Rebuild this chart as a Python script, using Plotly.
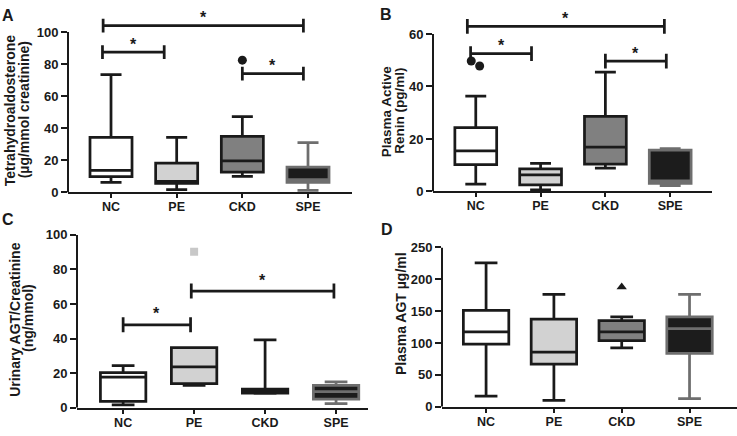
import plotly.graph_objects as go

# ── Data ─────────────────────────────────────────────────────────────────────
GROUPS = ["NC", "PE", "CKD", "SPE"]

# A: Tetrahydroaldosterone (µg/mmol creatinine)
a_lo  = [6.2, 1.8, 10.0, 1.2]
a_q1  = [9.8, 5.6, 12.6, 6.2]
a_med = [13.7, 6.8, 19.7, 8.0]
a_q3  = [34.3, 18.3, 35.0, 15.7]
a_hi  = [73.4, 34.3, 47.2, 31.0]
a_out_x = [2.0]
a_out_y = [82.5]
a_ticks = [0, 20, 40, 60, 80, 100]
# brackets: start group, end group, height
a_br_x0 = [-0.12, -0.13, 2.0]
a_br_x1 = [2.93, 0.81, 2.93]
a_br_h  = [104.0, 87.5, 74.1]

# B: Plasma Active Renin (pg/ml)
b_lo  = [2.8, 0.6, 8.9, 2.2]
b_q1  = [10.2, 2.5, 10.4, 3.1]
b_med = [15.5, 6.3, 16.9, 4.0]
b_q3  = [24.3, 8.6, 28.6, 15.7]
b_hi  = [36.3, 10.7, 45.5, 16.3]
b_out_x = [-0.07, 0.06]
b_out_y = [49.7, 47.8]
b_ticks = [0, 20, 40, 60]
b_br_x0 = [-0.13, -0.08, 2.0]
b_br_x1 = [2.91, 0.86, 2.94]
b_br_h  = [62.9, 52.5, 49.7]

# C: Urinary AGT/Creatinine (ng/mmol)
c_lo  = [1.7, 13.0, 8.3, 2.4]
c_q1  = [3.7, 14.0, 8.4, 5.0]
c_med = [17.7, 23.6, 9.5, 9.3]
c_q3  = [20.3, 34.8, 10.8, 12.9]
c_hi  = [24.4, 34.8, 39.3, 14.9]
c_out_x = [1.0]
c_out_y = [90.3]
c_ticks = [0, 20, 40, 60, 80, 100]
c_br_x0 = [0.0, 0.96]
c_br_x1 = [0.95, 2.97]
c_br_h  = [48.0, 67.5]

# D: Plasma AGT µg/ml
d_lo  = [16.6, 10.0, 92.2, 12.6]
d_q1  = [98.3, 67.0, 103.8, 83.7]
d_med = [117.4, 85.7, 117.4, 122.5]
d_q3  = [151.2, 137.6, 135.0, 141.0]
d_hi  = [225.8, 176.4, 141.0, 176.4]
d_out_x = [2.0]
d_out_y = [188.0]
d_ticks = [0, 50, 100, 150, 200, 250]

# ── Style ────────────────────────────────────────────────────────────────────
W, H = 737, 436
FONT = "Liberation Sans, Arial, sans-serif"
INK = "#1a1a1a"
LW = 2.75
FILL = {"NC": "#ffffff", "PE": "#d2d2d2", "CKD": "#808080", "SPE": "#1c1c1c"}
EDGE = {"NC": INK, "PE": INK, "CKD": INK, "SPE": "#6e6e6e"}


def xdom(left, right):
    return [left / W, right / W]


def ydom(top, bottom):
    return [1 - bottom / H, 1 - top / H]


fig = go.Figure()

# per panel: axis suffix, stats, x px span, y px (zero, top tick, domain top), x range
panels = [
    dict(ax="", lo=a_lo, q1=a_q1, med=a_med, q3=a_q3, hi=a_hi, ticks=a_ticks,
         xpx=(68, 352), ypx=(192, 26, 3), xr=[-0.655, 3.67], bw=0.64,
         out=(a_out_x, a_out_y, "circle", INK, 9),
         br=(a_br_x0, a_br_x1, a_br_h), tick=4.3, star=8),
    dict(ax="2", lo=b_lo, q1=b_q1, med=b_med, q3=b_q3, hi=b_hi, ticks=b_ticks,
         xpx=(433, 712), ypx=(191, 28, 3), xr=[-0.66, 3.645], bw=0.645,
         out=(b_out_x, b_out_y, "circle", INK, 9),
         br=(b_br_x0, b_br_x1, b_br_h), tick=2.8, star=8),
    dict(ax="3", lo=c_lo, q1=c_q1, med=c_med, q3=c_q3, hi=c_hi, ticks=c_ticks,
         xpx=(77, 368), ypx=(415, 236, 236), xr=[-0.65, 3.45], bw=0.64,
         out=(c_out_x, c_out_y, "square", "#c8c8c8", 8),
         br=(c_br_x0, c_br_x1, c_br_h), tick=4.3, star=11),
    dict(ax="4", lo=d_lo, q1=d_q1, med=d_med, q3=d_q3, hi=d_hi, ticks=d_ticks,
         xpx=(442, 737), ypx=(414, 249, 249), xr=[-0.65, 3.70], bw=0.67,
         out=(d_out_x, d_out_y, "triangle-up", INK, 9),
         br=None, tick=0, star=0),
]

layout = {}
annotations = []
shapes = []

for p in panels:
    xa, ya = "x" + p["ax"], "y" + p["ax"]
    zero_px, top_tick_px, dom_top_px = p["ypx"]
    top_tick = p["ticks"][-1]
    y_top = top_tick * (zero_px - dom_top_px) / (zero_px - top_tick_px)

    for i, g in enumerate(GROUPS):
        fig.add_trace(go.Box(
            x=[i], q1=[p["q1"][i]], median=[p["med"][i]], q3=[p["q3"][i]],
            lowerfence=[p["lo"][i]], upperfence=[p["hi"][i]],
            width=p["bw"], whiskerwidth=0.5, boxpoints=False,
            fillcolor=FILL[g], line=dict(color=EDGE[g], width=LW),
            xaxis=xa, yaxis=ya, showlegend=False, hoverinfo="skip",
        ))

    ox, oy, sym, col, size = p["out"]
    fig.add_trace(go.Scatter(
        x=ox, y=oy, mode="markers",
        marker=dict(symbol=sym, color=col, size=size, line=dict(width=0)),
        xaxis=xa, yaxis=ya, showlegend=False, hoverinfo="skip",
    ))

    if p["br"]:
        d = p["tick"]
        for x0, x1, h in zip(*p["br"]):
            fig.add_trace(go.Scatter(
                x=[x0, x0, None, x0, x1, None, x1, x1],
                y=[h - d, h + d, None, h, h, None, h - d, h + d],
                mode="lines", line=dict(color=INK, width=LW),
                xaxis=xa, yaxis=ya, showlegend=False, hoverinfo="skip",
            ))
            annotations.append(dict(
                x=(x0 + x1) / 2, y=h, xref=xa, yref=ya, text="*",
                showarrow=False, yanchor="middle", yshift=p["star"],
                font=dict(family=FONT, size=16, color=INK, weight="bold"),
            ))

    layout["xaxis" + p["ax"]] = dict(
        domain=xdom(*p["xpx"]), anchor=ya, range=p["xr"],
        tickvals=list(range(len(GROUPS))), ticktext=GROUPS,
        showline=True, linecolor=INK, linewidth=2,
        ticks="outside", ticklen=4, tickwidth=2, tickcolor=INK,
        ticklabelstandoff=-2,
        showgrid=False, zeroline=False,
        tickfont=dict(family=FONT, size=12.5, color=INK, weight="bold"),
    )
    layout["yaxis" + p["ax"]] = dict(
        domain=ydom(dom_top_px, zero_px), anchor=xa, range=[0, y_top],
        tickvals=p["ticks"], showline=False,
        ticks="outside", ticklen=6, tickwidth=2, tickcolor=INK,
        showgrid=False, zeroline=False,
        tickfont=dict(family=FONT, size=13, color=INK, weight="bold"),
    )
    # y axis line only up to the top tick
    shapes.append(dict(
        type="line", xref=xa + " domain", yref=ya, x0=0, x1=0,
        y0=0, y1=top_tick, line=dict(color=INK, width=2),
    ))

# axis titles: (text, centre x px, centre y px, size)
titles = [
    ("Tetrahydroaldosterone", 10, 107, 14),
    ("(µg/mmol creatinine)", 24, 107, 14),
    ("Plasma Active", 386, 108, 13.5),
    ("Renin (pg/ml)", 399.5, 108, 13.5),
    ("Urinary AGT/Creatinine", 15, 324, 14),
    ("(ng/mmol)", 28, 322, 14),
    ("Plasma AGT µg/ml", 401, 318, 14),
]
for text, cx, cy, size in titles:
    annotations.append(dict(
        x=cx / W, y=1 - cy / H, xref="paper", yref="paper", text=text,
        textangle=-90, showarrow=False, xanchor="center", yanchor="middle",
        font=dict(family=FONT, size=size, color=INK, weight="bold"),
    ))

for letter, cx, cy in [("A", 7.5, 9), ("B", 386, 8), ("C", 8, 220), ("D", 387, 230)]:
    annotations.append(dict(
        x=cx / W, y=1 - cy / H, xref="paper", yref="paper", text=letter,
        showarrow=False, xanchor="center", yanchor="middle",
        font=dict(family=FONT, size=16, color=INK, weight="bold"),
    ))

fig.update_layout(
    width=W, height=H, autosize=False,
    margin=dict(l=0, r=0, t=0, b=0),
    paper_bgcolor="white", plot_bgcolor="white",
    annotations=annotations, shapes=shapes,
    **layout,
)

# page body has a default 8px margin; drop it so the figure sits at 0,0
fig.write_html("out.html", config={"displayModeBar": False},
               post_script="document.body.style.margin='0px';")
